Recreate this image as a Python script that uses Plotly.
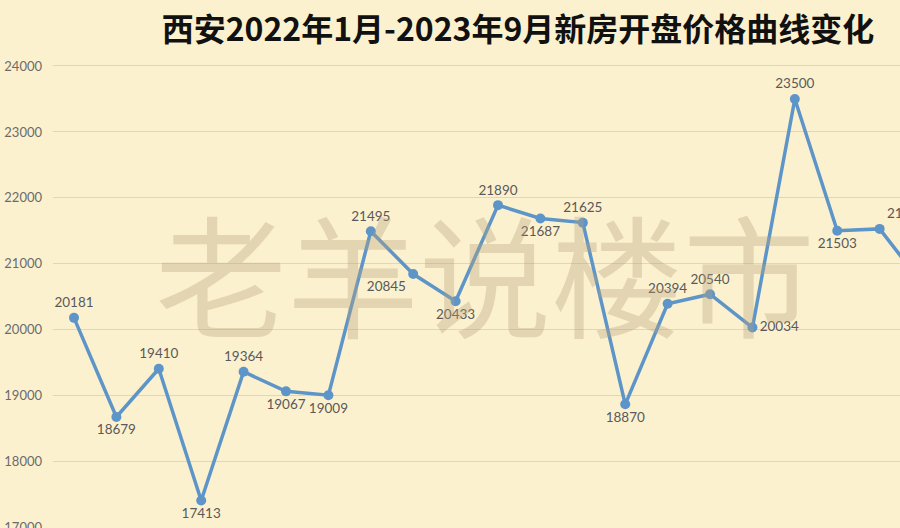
import plotly.graph_objects as go

# ---- data ----
months = ["2022年1月", "2022年2月", "2022年3月", "2022年4月", "2022年5月", "2022年6月",
          "2022年7月", "2022年8月", "2022年9月", "2022年10月", "2022年11月", "2022年12月",
          "2023年1月", "2023年2月", "2023年3月", "2023年4月", "2023年5月", "2023年6月",
          "2023年7月", "2023年8月", "2023年9月"]
prices = [20181, 18679, 19410, 17413, 19364, 19067, 19009, 21495, 20845, 20433,
          21890, 21687, 21625, 18870, 20394, 20540, 20034, 23500, 21503, 21530, 20700]
y_ticks = [17000, 18000, 19000, 20000, 21000, 22000, 23000, 24000]
title_text = "西安2022年1月-2023年9月新房开盘价格曲线变化"
watermark = "老羊说楼市"

# label placement (style)
label_pos = ["top center", "bottom center", "top center", "bottom center", "top center",
             "bottom center", "bottom center", "top center", "bottom left", "bottom center",
             "top center", "bottom center", "top center", "bottom center", "top center",
             "top center", "middle right", "top center", "bottom center", "top right",
             "bottom center"]

bg = "#FCF1CF"
line_color = "#5E95C9"

fig = go.Figure()
fig.add_trace(go.Scatter(
    x=months, y=prices, mode="lines+markers+text",
    text=[str(v) for v in prices], textposition=label_pos,
    textfont=dict(family="Lato, Open Sans, sans-serif", size=13.5, color="#595959"),
    line=dict(color=line_color, width=3.5),
    marker=dict(color=line_color, size=10),
    cliponaxis=True, showlegend=False,
))

fig.add_annotation(
    text=watermark, xref="paper", yref="paper",
    x=(485 - 53) / 847, y=(528 - 270) / 488, xanchor="center", yanchor="middle",
    showarrow=False,
    font=dict(family="Noto Sans CJK SC", size=132, color="rgba(180,160,120,0.35)"),
)

fig.update_layout(
    width=900, height=528,
    paper_bgcolor=bg, plot_bgcolor=bg,
    margin=dict(l=53, r=0, t=40, b=0, autoexpand=False),
    title=dict(text=title_text, x=518 / 900, xanchor="center", xref="container",
               y=1 - 30 / 528, yanchor="middle",
               font=dict(family="Noto Sans CJK SC", size=32, color="#111111", weight="bold")),
    xaxis=dict(type="category", range=[-0.495, 19.48], showticklabels=False,
               showgrid=False, zeroline=False, showline=False, ticks="", automargin=False),
    yaxis=dict(range=[16995, 24394], tickvals=y_ticks, ticktext=[str(v) for v in y_ticks],
               showgrid=True, gridcolor="#DCD6C4", gridwidth=1, zeroline=False,
               showline=False, ticks="", ticklabelstandoff=10, ticklabeloverflow="allow",
               automargin=False,
               tickfont=dict(family="Lato, Open Sans, sans-serif", size=13, color="#6B6B6B")),
)

fig.write_html("out.html", config={"displayModeBar": False},
               post_script="document.body.style.margin='0';document.body.style.overflow='hidden';")
